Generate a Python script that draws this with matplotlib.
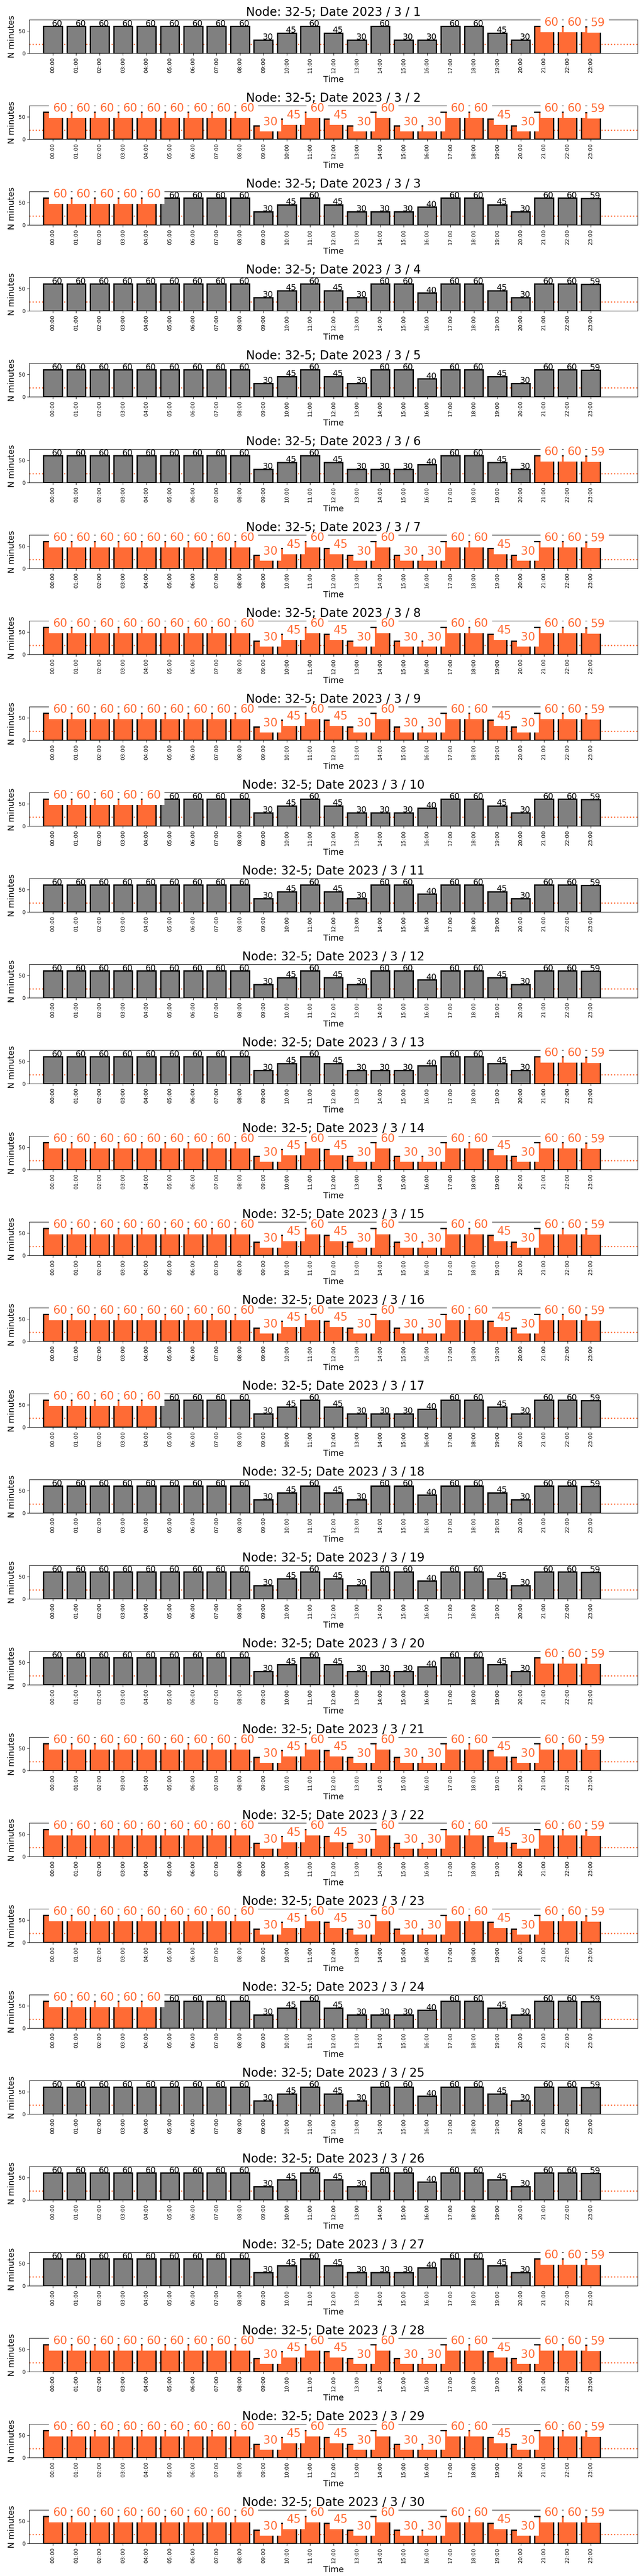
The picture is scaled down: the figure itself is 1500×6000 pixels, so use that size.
import matplotlib
matplotlib.use("Agg")
import matplotlib.pyplot as plt

# ---------------- data ----------------
node = "32-5"
year, month = 2023, 3
days = list(range(1, 31))

hour_labels = ["00:00", "01:00", "02:00", "03:00", "04:00", "05:00", "06:00", "07:00",
               "08:00", "09:00", "10:00", "11:00", "12:00", "13:00", "14:00", "15:00",
               "16:00", "17:00", "18:00", "19:00", "20:00", "21:00", "22:00", "23:00"]

# minutes per hour, three distinct daily profiles seen in the chart
profile_A = [60, 60, 60, 60, 60, 60, 60, 60, 60, 30, 45, 60, 45, 30, 60, 60, 40, 60, 60, 45, 30, 60, 60, 59]
profile_B = [60, 60, 60, 60, 60, 60, 60, 60, 60, 30, 45, 60, 45, 30, 30, 30, 40, 60, 60, 45, 30, 60, 60, 59]
profile_C = [60, 60, 60, 60, 60, 60, 60, 60, 60, 30, 45, 60, 45, 30, 60, 30, 30, 60, 60, 45, 30, 60, 60, 59]
profiles = {"A": profile_A, "B": profile_B, "C": profile_C}

day_profile = ["C", "C", "B", "A", "A", "B", "C", "C", "C", "B",
               "A", "A", "B", "C", "C", "C", "B", "A", "A", "B",
               "C", "C", "C", "B", "A", "A", "B", "C", "C", "C"]

# highlighted hour ranges (first hour, last hour) per day, None = no highlight
day_highlight = [(21, 23), (0, 23), (0, 4), None, None, (21, 23), (0, 23), (0, 23), (0, 23), (0, 4),
                 None, None, (21, 23), (0, 23), (0, 23), (0, 23), (0, 4), None, None, (21, 23),
                 (0, 23), (0, 23), (0, 23), (0, 4), None, None, (21, 23), (0, 23), (0, 23), (0, 23)]

threshold = 20

# ---------------- style ----------------
ORANGE = "#FF6B35"
GRAY = "#808080"

fig, axes = plt.subplots(len(days), 1, figsize=(15, 60), dpi=100)
fig.subplots_adjust(left=0.0456, right=0.99, top=0.99238, bottom=0.01262, hspace=1.545)

x = list(range(len(hour_labels)))
for ax, day, prof, hl in zip(axes, days, day_profile, day_highlight):
    vals = profiles[prof]
    colors = []
    flags = []
    for i in x:
        on = hl is not None and hl[0] <= i <= hl[1]
        flags.append(on)
        colors.append(ORANGE if on else GRAY)
    ax.bar(x, vals, width=0.8, color=colors, edgecolor="black", linewidth=2.2, zorder=2)
    ax.axhline(threshold, color=ORANGE, linestyle=":", linewidth=2, zorder=1)
    for i, v, on in zip(x, vals, flags):
        if on:
            ax.text(i, v + 1, str(v), ha="left", va="baseline", fontsize=19, color=ORANGE,
                    bbox=dict(facecolor="white", edgecolor="none", pad=6), zorder=5,
                    clip_on=False)
        else:
            ax.text(i - 0.04, v + 0.8, str(v), ha="left", va="baseline", fontsize=14,
                    color="black", zorder=4)
    ax.set_xlim(-1, 25)
    ax.set_ylim(0, 75)
    ax.set_yticks([0, 50])
    ax.tick_params(axis="y", labelsize=9)
    ax.set_xticks(x)
    ax.set_xticklabels(hour_labels, rotation=90, fontsize=9)
    ax.set_xlabel("Time", fontsize=14)
    ax.set_ylabel("N minutes", fontsize=14)
    t = ax.set_title(f"Node: {node}; Date {year} / {month} / {day}", fontsize=20)
    t.set_zorder(10)

fig.savefig("out.png", dpi=100)
